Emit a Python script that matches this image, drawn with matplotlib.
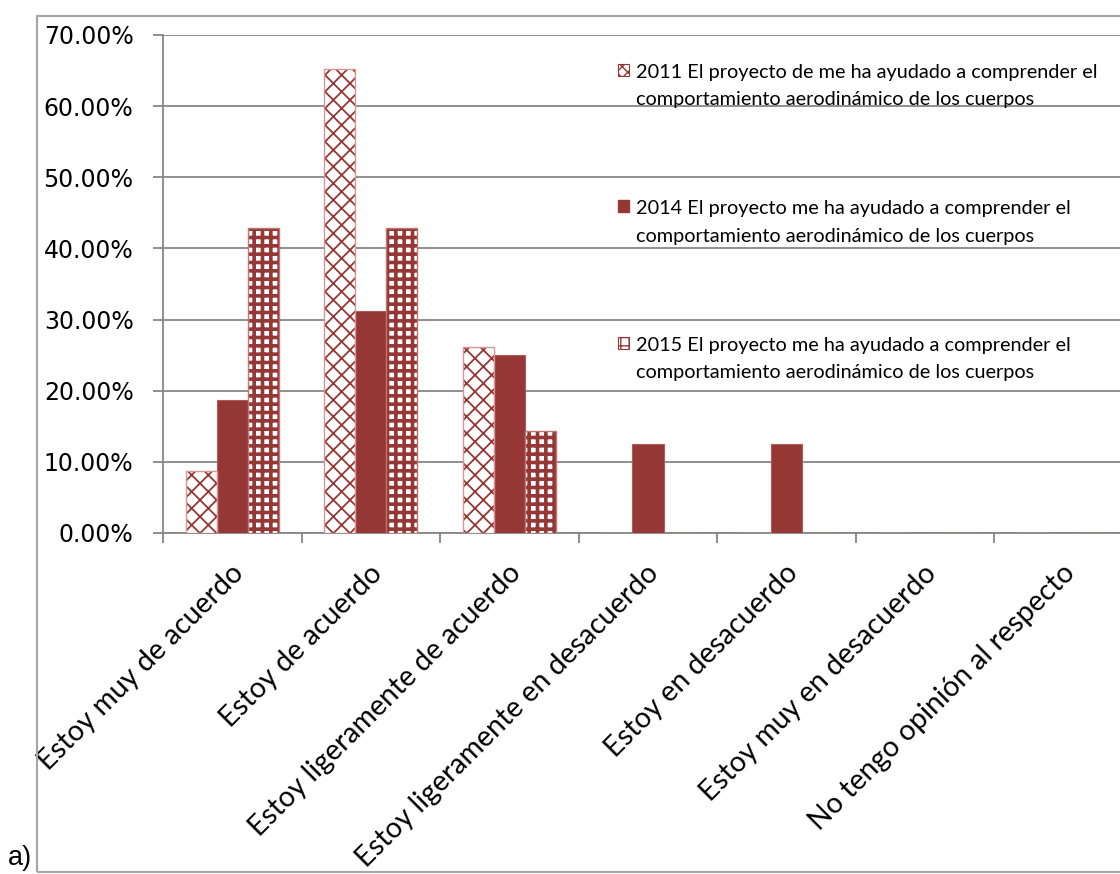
import numpy as np
import matplotlib.pyplot as plt
from matplotlib.patches import Rectangle, Patch
from matplotlib.transforms import ScaledTranslation
from matplotlib.ticker import PercentFormatter, FixedLocator

# data (percent of respondents)
categories = [
    "Estoy muy de acuerdo",
    "Estoy de acuerdo",
    "Estoy ligeramente de acuerdo",
    "Estoy ligeramente en desacuerdo",
    "Estoy en desacuerdo",
    "Estoy muy en desacuerdo",
    "No tengo opinión al respecto",
]
vals_2011 = [8.70, 65.22, 26.09, 0, 0, 0, 0]
vals_2014 = [18.75, 31.25, 25.00, 12.50, 12.50, 0, 0]
vals_2015 = [42.86, 42.86, 14.29, 0, 0, 0, 0]
labels = [
    "2011 El proyecto de me ha ayudado a comprender el\ncomportamiento aerodinámico de los cuerpos",
    "2014 El proyecto me ha ayudado a comprender el\ncomportamiento aerodinámico de los cuerpos",
    "2015 El proyecto me ha ayudado a comprender el\ncomportamiento aerodinámico de los cuerpos",
]

RED = "#953735"
PINK = "#d99694"
GRID = "#868686"

fig = plt.figure(figsize=(11.2, 8.74), dpi=100)
ax = fig.add_axes([163 / 1120, 1 - 533 / 874, (1133 - 163) / 1120, (533 - 35) / 874])

x = np.arange(len(categories))
w = 0.224

# 2011: white with thin red pattern, light outline
with plt.rc_context({"hatch.linewidth": 1.3}):
    ax.bar(x - w, vals_2011, w, color="white", edgecolor=RED, hatch="xx", linewidth=0, zorder=3)
    h11 = Patch(facecolor="white", edgecolor=RED, hatch="xxx", linewidth=0.8)
ax.bar(x - w, vals_2011, w, fill=False, edgecolor=PINK, linewidth=1, zorder=4)
# 2014: solid
ax.bar(x, vals_2014, w, color=RED, edgecolor="#b05a58", linewidth=0.8, zorder=3)
h14 = Patch(facecolor=RED, edgecolor=RED)
# 2015: dense plaid pattern
with plt.rc_context({"hatch.linewidth": 2.6}):
    ax.bar(x + w, vals_2015, w, color="white", edgecolor=RED, hatch="++", linewidth=0, zorder=3)
with plt.rc_context({"hatch.linewidth": 1.8}):
    h15 = Patch(facecolor="white", edgecolor=RED, hatch="++", linewidth=0.8)
ax.bar(x + w, vals_2015, w, fill=False, edgecolor="#c07573", linewidth=1, zorder=4)

ax.set_xlim(-0.5, len(categories) - 0.5)
ax.set_ylim(0, 70)
ax.yaxis.set_major_locator(FixedLocator(np.arange(0, 71, 10)))
ax.yaxis.set_major_formatter(PercentFormatter(decimals=2))
ax.grid(axis="y", color=GRID, linewidth=1.3, zorder=0)
ax.set_axisbelow(True)

for s in ["top", "right"]:
    ax.spines[s].set_visible(False)
for s in ["left", "bottom"]:
    ax.spines[s].set_color(GRID)
    ax.spines[s].set_linewidth(1.3)

ax.tick_params(axis="y", length=7.2, width=1.3, color=GRID, pad=14, labelsize=17)
for t in ax.get_yticklabels():
    t.set_fontfamily("DejaVu Sans")

# category labels, rotated
ax.set_xticks(x, categories, rotation=45, ha="right", va="center",
              rotation_mode="anchor", fontsize=20.5, fontfamily="Lato")
ax.tick_params(axis="x", length=0, pad=0)
offset = ScaledTranslation(0.07, -0.36, fig.dpi_scale_trans)
for t in ax.get_xticklabels():
    t.set_transform(t.get_transform() + offset)

# separators between categories
ax.set_xticks(np.arange(len(categories) + 1) - 0.5, minor=True)
ax.tick_params(axis="x", which="minor", length=7.2, width=1.3, color=GRID)

# legend
leg = fig.legend([h11, h14, h15], labels, loc="upper left",
                 bbox_to_anchor=(618 / 1120, 1 - 64 / 874),
                 frameon=False, prop={"family": "Lato", "size": 14.3},
                 handlelength=0.55, handleheight=0.55, handletextpad=0.35,
                 labelspacing=4.65, borderpad=0, borderaxespad=0)
for t in leg.get_texts():
    t.set_linespacing(1.72)
# put each marker next to the first line of its label
for col in leg._legend_handle_box.get_children():
    for row in col.get_children():
        row.align = "top"

# outer chart border and panel letter
fig.patches.append(Rectangle((37 / 1120, 1 - 872 / 874), (1135 - 37) / 1120, (872 - 16) / 874,
                             transform=fig.transFigure, fill=False,
                             edgecolor="#a6a6a6", linewidth=1.5))
fig.text(8 / 1120, 1 - 871 / 874, "a)", fontsize=19.5, fontfamily="Liberation Sans",
         ha="left", va="bottom")

fig.savefig("out.png", dpi=100)
